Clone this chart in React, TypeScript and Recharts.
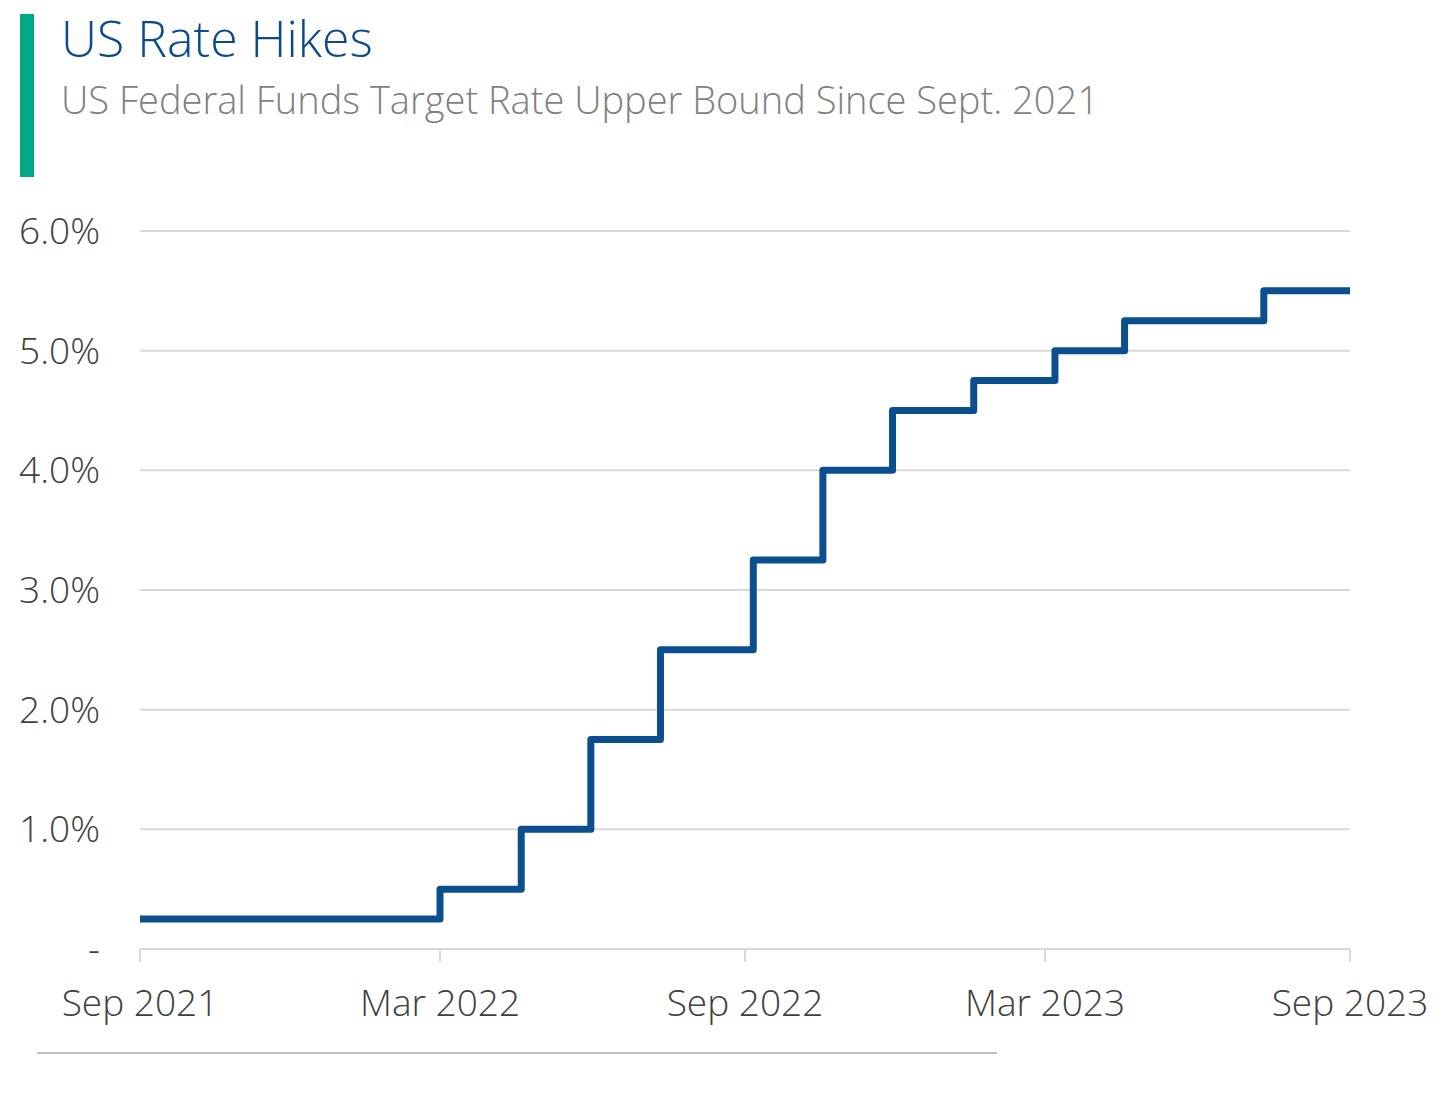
import React from 'react';
import { LineChart, Line, XAxis, YAxis, CartesianGrid } from 'recharts';

const changeDates = [
  '2021-09-17', '2022-03-17', '2022-05-05', '2022-06-16', '2022-07-28', '2022-09-22',
  '2022-11-03', '2022-12-15', '2023-02-02', '2023-03-23', '2023-05-04', '2023-07-27', '2023-09-17',
];
const upperBound = [0.25, 0.5, 1.0, 1.75, 2.5, 3.25, 4.0, 4.5, 4.75, 5.0, 5.25, 5.5, 5.5];

const tickDates = ['2021-09-17', '2022-03-17', '2022-09-17', '2023-03-17', '2023-09-17'];
const tickLabels = ['Sep 2021', 'Mar 2022', 'Sep 2022', 'Mar 2023', 'Sep 2023'];
const yTicks = [0, 1, 2, 3, 4, 5, 6];

const ts = (d: string) => Date.parse(d + 'T00:00:00Z');
const data = changeDates.map((d, i) => ({ t: ts(d), rate: upperBound[i] }));
const xTicks = tickDates.map(ts);

const FONT = '"Open Sans", "Noto Sans", sans-serif';

export default function App() {
  return (
    <div style={{ position: 'relative', width: 1440, height: 1087, fontFamily: FONT, background: '#fff' }}>
      <LineChart
        width={1440}
        height={1087}
        data={data}
        margin={{ top: 223, right: 98, bottom: 86, left: 0 }}
      >
        <CartesianGrid horizontal vertical={false} stroke="#d9d9d9" strokeWidth={2} />
        <XAxis
          dataKey="t"
          type="number"
          scale="time"
          domain={[xTicks[0], xTicks[xTicks.length - 1]]}
          ticks={xTicks}
          tickFormatter={(v: number) => tickLabels[xTicks.indexOf(v)] ?? ''}
          height={60}
          tickSize={13}
          tickMargin={28}
          axisLine={{ stroke: '#d9d9d9', strokeWidth: 2 }}
          tickLine={{ stroke: '#d9d9d9', strokeWidth: 2 }}
          tick={{ fill: '#404040', fontSize: 37, fontFamily: FONT, fontWeight: 300 }}
          interval={0}
        />
        <YAxis
          type="number"
          domain={[0, 6]}
          ticks={yTicks}
          width={132}
          axisLine={false}
          tickLine={false}
          tickSize={0}
          tickMargin={40}
          tickFormatter={(v: number) => (v === 0 ? '-' : v.toFixed(1) + '%')}
          tick={{ fill: '#404040', fontSize: 37, fontFamily: FONT, fontWeight: 300 }}
          interval={0}
        />
        <Line
          type="stepAfter"
          dataKey="rate"
          stroke="#0b4f8f"
          strokeWidth={7}
          dot={false}
          activeDot={false}
          isAnimationActive={false}
          strokeLinejoin="round"
        />
      </LineChart>
      <div style={{ position: 'absolute', left: 12, top: 6, width: 14, height: 163, background: '#00a886' }} />
      <div style={{ position: 'absolute', left: 53, top: 3, fontSize: 50, lineHeight: '54px', color: '#0b4a8c', fontWeight: 300, whiteSpace: 'nowrap' }}>
        US Rate Hikes
      </div>
      <div style={{ position: 'absolute', left: 53, top: 68, fontSize: 38, lineHeight: '46px', color: '#7f7f7f', fontWeight: 300, whiteSpace: 'nowrap' }}>
        US Federal Funds Target Rate Upper Bound Since Sept. 2021
      </div>
      <div style={{ position: 'absolute', left: 29, top: 1044, width: 960, height: 2, background: '#bfbfbf' }} />
    </div>
  );
}
